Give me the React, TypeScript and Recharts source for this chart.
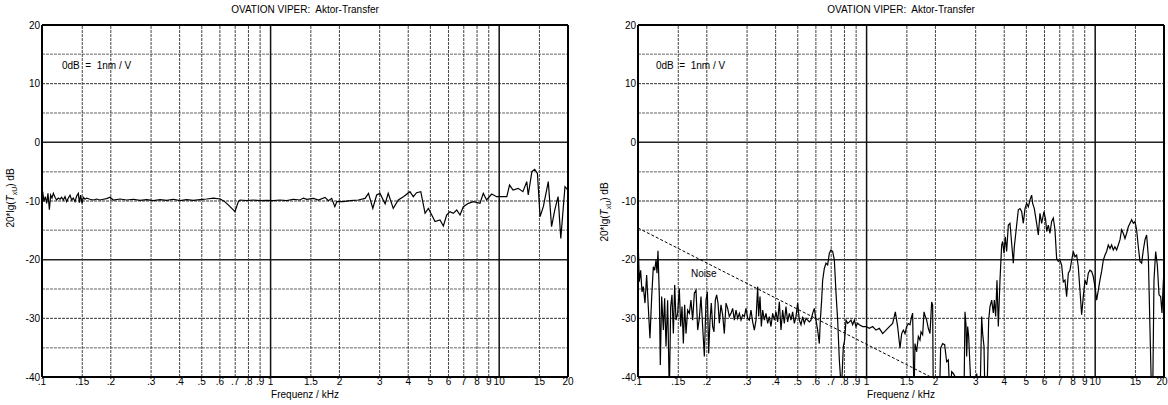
import { LineChart, Line, XAxis, YAxis, ReferenceLine } from 'recharts';

// frequency axis ticks (kHz) and level ticks (dB)
const xTicks = [0.1, 0.15, 0.2, 0.3, 0.4, 0.5, 0.6, 0.7, 0.8, 0.9, 1, 1.5, 2, 3, 4, 5, 6, 7, 8, 9, 10, 15, 20];
const yTicks = [-40, -30, -20, -10, 0, 10, 20];

// left panel: transfer curve
const leftFreq = [
  0.1, 0.1007, 0.102, 0.1034, 0.1048, 0.1062, 0.1077, 0.1091, 0.1106, 0.1121, 0.114, 0.1159, 0.1179, 0.1199,
  0.1219, 0.124, 0.1261, 0.1282, 0.1304, 0.1326, 0.1348, 0.1371, 0.1394, 0.1418, 0.1442, 0.1457, 0.1476, 0.1496,
  0.1516, 0.1542, 0.1568, 0.1622, 0.1677, 0.1734, 0.1794, 0.1855, 0.1918, 0.1984, 0.2051, 0.2194, 0.2346, 0.2509,
  0.2684, 0.2871, 0.3069, 0.3283, 0.3511, 0.3754, 0.4015, 0.4293, 0.4592, 0.4911, 0.5252, 0.5617, 0.6007, 0.6212,
  0.6424, 0.6644, 0.6871, 0.6987, 0.7106, 0.7226, 0.7349, 0.7857, 0.8404, 0.8986, 0.9612, 1.028, 1.099, 1.176,
  1.258, 1.345, 1.391, 1.44, 1.54, 1.62, 1.73, 1.79, 1.85, 1.91, 1.95, 2.08, 2.23, 2.42, 2.59, 2.68, 2.8, 2.91,
  3.01, 3.17, 3.27, 3.44, 3.62, 3.81, 4.07, 4.21, 4.35, 4.54, 4.74, 4.9, 5.07, 5.24, 5.51, 5.7, 5.89, 6.09, 6.3,
  6.52, 6.74, 6.97, 7.33, 7.71, 8.24, 8.52, 8.81, 9.27, 9.75, 10.25, 10.8, 11.1, 11.5, 12.1, 12.7, 13.2, 13.4,
  13.9, 14.3, 14.7, 15.1, 15.6, 16.4, 16.95, 17.5, 18.1, 18.6, 19.4, 20,
];
const leftDb = [
  -9.3, -8.4, -10.1, -9.26, -10.4, -8.7, -11.5, -9.0, -9.5, -8.7, -9.37, -9.83, -9.5, -9.7,
  -9.37, -9.83, -9.26, -10.1, -9.5, -9.0, -9.83, -9.5, -10.1, -9.15, -8.7, -10.3, -9.0, -10.4,
  -9.37, -9.7, -9.5, -9.7, -9.83, -9.66, -9.83, -9.7, -9.6, -9.37, -9.83, -9.66, -9.83, -9.7,
  -9.9, -9.77, -9.94, -9.77, -9.9, -9.7, -9.94, -9.77, -9.9, -9.77, -9.66, -9.5, -9.66, -9.94,
  -10.4, -10.96, -11.5, -11.8, -10.96, -10.1, -9.83, -9.94, -9.83, -9.94, -9.9, -9.94, -9.83, -9.94,
  -9.7, -9.83, -9.5, -9.72, -9.55, -9.83, -9.38, -9.95, -9.55, -10.97, -10.1, -10.1, -9.95, -9.83, -9.55, -8.7, -11.25, -8.98,
  -8.7, -10.5, -8.7, -11.25, -9.83, -9.26, -8.41, -9.26, -8.58, -8.41, -12.1, -11.25, -12.39, -13.5, -13.24, -14.26, -12.39, -11.82, -12.1,
  -11.54, -12.39, -10.97, -10.4, -10.1, -10.4, -8.7, -9.83, -8.81, -9.26, -9.26, -9.26, -7.28, -8.13, -7.84, -8.41, -6.7, -8.98,
  -5.0, -4.6, -5.3, -12.67, -10.97, -6.7, -14.38, -11.54, -9.26, -16.37, -7.56, -8.13,
];

// right panel: transfer curve (values below -40 run off the plot)
const rightFreq = [
  0.1, 0.1013, 0.1027, 0.1041, 0.1055, 0.1073, 0.1091, 0.1113, 0.1128, 0.1148, 0.1167, 0.1183, 0.1199, 0.1211,
  0.1223, 0.124, 0.1252, 0.1269, 0.1291, 0.1308, 0.1326, 0.1348, 0.1371, 0.139, 0.1408, 0.1428, 0.1447, 0.1466,
  0.1491, 0.1516, 0.1537, 0.1558, 0.1579, 0.16, 0.1622, 0.1649, 0.1677, 0.1705, 0.1734, 0.1764, 0.1794, 0.1824,
  0.1855, 0.1886, 0.1918, 0.1951, 0.1984, 0.2011, 0.2038, 0.2065, 0.2093, 0.2121, 0.215, 0.2179, 0.2208, 0.2239,
  0.2269, 0.2307, 0.2346, 0.2386, 0.2427, 0.2467, 0.2509, 0.2552, 0.2595, 0.2639, 0.2684, 0.2729, 0.2776, 0.2823,
  0.2871, 0.2919, 0.2968, 0.3018, 0.3069, 0.3121, 0.3174, 0.3228, 0.3283, 0.3338, 0.3372, 0.3418, 0.3464, 0.3511,
  0.357, 0.363, 0.3692, 0.3754, 0.3817, 0.3882, 0.3948, 0.4015, 0.4083, 0.4152, 0.4222, 0.4293, 0.4366, 0.444,
  0.4515, 0.4592, 0.4669, 0.4749, 0.4829, 0.4911, 0.4994, 0.5078, 0.5164, 0.5252, 0.5341, 0.5431, 0.5523, 0.5617,
  0.5712, 0.5808, 0.5907, 0.6007, 0.6108, 0.6212, 0.6275, 0.6359, 0.6424, 0.6533, 0.6644, 0.6756, 0.6871, 0.6987,
  0.7106, 0.7226, 0.7349, 0.7472, 0.7599, 0.7702, 0.7806, 0.7911, 0.8018, 0.8126, 0.8264, 0.8404, 0.8546, 0.8691,
  0.8838, 0.8986, 0.9139, 0.9294, 0.9612, 0.994, 1.028, 1.063, 1.099, 1.137, 1.176, 1.216, 1.258, 1.3, 1.336, 1.367,
  1.4, 1.424, 1.448, 1.472, 1.497, 1.523, 1.548, 1.574, 1.59, 1.612, 1.628, 1.656, 1.684, 1.712, 1.73, 1.759, 1.783,
  1.807, 1.831, 1.862, 1.894, 1.926, 1.945, 1.958, 1.992, 2.025, 2.08, 2.108, 2.151, 2.195, 2.24, 2.278, 2.316,
  2.356, 2.396, 2.436, 2.477, 2.667, 2.694, 2.722, 2.74, 2.768, 2.796, 2.834, 2.882, 2.98, 3.03, 3.134, 3.187,
  3.219, 3.263, 3.296, 3.351, 3.385, 3.42, 3.466, 3.525, 3.584, 3.621, 3.669, 3.719, 3.769, 3.833, 3.898, 3.938,
  3.991, 4.044, 4.099, 4.169, 4.239, 4.311, 4.384, 4.428, 4.503, 4.61, 4.688, 4.768, 4.848, 4.931, 5.014, 5.099,
  5.185, 5.273, 5.326, 5.416, 5.545, 5.639, 5.734, 5.831, 5.97, 6.071, 6.133, 6.236, 6.342, 6.449, 6.558, 6.669,
  6.782, 6.897, 7.014, 7.132, 7.253, 7.376, 7.501, 7.628, 7.757, 7.888, 8.022, 8.158, 8.296, 8.436, 8.579, 8.724,
  8.872, 9.022, 9.175, 9.33, 9.488, 9.649, 9.812, 9.978, 10.15, 10.32, 10.49, 10.67, 10.85, 11.04, 11.22, 11.41,
  11.61, 11.8, 12.0, 12.2, 12.41, 12.62, 12.84, 13.05, 13.27, 13.5, 13.73, 13.96, 14.2, 14.44, 14.68, 14.93, 15.18,
  15.44, 15.7, 15.97, 16.24, 16.52, 16.79, 17.08, 17.37, 17.66, 17.84, 18.08, 18.39, 18.7, 19.02, 19.34, 19.6,
  19.85, 20,
];
const rightDb = [
  -16.1, -23.75, -21.8, -25.5, -24.6, -27.4, -22.6, -29.15, -33.4, -26.3, -21.2, -21.8, -20.06, -22.3,
  -18.47, -26.3, -37.95, -26.3, -32.0, -26.6, -34.8, -26.9, -43, -28.0, -26.0, -32.6, -24.3, -30.3,
  -29.15, -24.9, -31.4, -28.0, -34.3, -27.7, -32.6, -28.6, -29.15, -26.9, -30.3, -25.7, -25.2, -32.0,
  -30.0, -26.3, -31.4, -36.5, -26.9, -25.5, -36.0, -30.3, -27.4, -31.4, -32.3, -26.9, -26.0, -27.4,
  -30.85, -27.7, -29.4, -32.6, -27.4, -28.3, -29.7, -29.15, -28.3, -30.3, -28.6, -30.0, -29.15, -30.3,
  -29.4, -29.7, -28.3, -30.0, -30.3, -28.6, -30.6, -32.0, -30.3, -24.6, -29.7, -26.3, -31.4, -28.6,
  -30.3, -29.15, -30.85, -29.7, -31.4, -29.15, -30.3, -28.9, -30.6, -27.2, -32.0, -28.6, -30.85, -28.0,
  -30.6, -29.15, -30.3, -28.9, -30.85, -29.7, -27.4, -30.3, -31.1, -29.7, -30.85, -30.0, -30.3, -30.6,
  -30.3, -29.15, -28.3, -30.3, -32.0, -34.3, -30.3, -26.9, -23.5, -21.5, -20.6, -20.9, -18.9, -18.35,
  -18.6, -20.06, -25.7, -30.3, -37.1, -40.5, -40.0, -34.8, -33.7, -30.3, -30.85, -30.6, -30.3, -31.1,
  -30.3, -31.4, -30.85, -31.1, -31.4, -31.4, -31.7, -31.4, -32.0, -31.7, -32.6, -32.0, -31.4, -30.85, -28.9, -31.4,
  -35.1, -32.6, -32.0, -32.6, -31.4, -30.9, -31.1, -29.7, -29.1, -44, -34.3, -35.7, -33.1, -33.7, -32.3, -32.8, -28.9,
  -29.7, -30.3, -31.7, -32.6, -27.2, -27.7, -44, -45, -45, -45, -35.1, -34.3, -34.5, -37.4, -37.1, -44,
  -39.1, -39.4, -39.9, -45, -44, -28.9, -31.1, -36.5, -31.4, -33.1, -38.2, -45, -45, -39.4, -44, -29.7,
  -32.6, -34.8, -44, -45, -38.2, -30.3, -28.0, -26.9, -29.1, -26.9, -29.7, -23.5, -31.4, -23.5, -17.5, -16.9,
  -18.9, -16.1, -18.6, -14.1, -13.8, -17.2, -20.6, -17.8, -15.2, -11.5, -11.3, -11.8, -13.8, -11.3, -10.4, -11.0,
  -9.8, -9.0, -10.4, -11.3, -13.8, -15.8, -12.1, -13.8, -11.8, -13.2, -15.2, -14.1, -15.5, -13.5, -12.9, -14.9,
  -19.8, -20.3, -20.1, -20.9, -23.8, -23.5, -26.3, -22.3, -21.8, -20.1, -18.6, -19.5, -19.2, -21.2, -25.2, -29.4,
  -26.3, -23.5, -24.3, -22.3, -21.8, -22.0, -22.9, -24.6, -26.9, -25.2, -23.5, -22.0, -20.1, -19.2, -18.6, -17.5,
  -18.1, -17.5, -18.35, -17.8, -18.35, -17.5, -16.6, -14.9, -15.5, -16.4, -15.5, -14.4, -13.8, -13.2, -13.8, -13.5, -14.9,
  -17.8, -20.3, -20.6, -18.35, -16.6, -15.8, -19.5, -32.0, -44, -44, -23.5, -18.6, -20.9, -26.0, -26.3, -29.1,
  -24.0, -22.0,
];

// dashed noise floor in the right panel
const noiseFreq = [0.1, 2.0];
const noiseDb = [-14.6, -40.4];

const toPoints = (fs: number[], ds: number[]) => fs.map((f, i) => ({ f, db: ds[i] }));

const font = '"Liberation Sans", Arial, Helvetica, sans-serif';
const minorX = [0.15, 0.2, 0.3, 0.4, 0.5, 0.6, 0.7, 0.8, 0.9, 1.5, 2, 3, 4, 5, 6, 7, 8, 9, 15];
const halfY = [-35, -25, -15, -5, 5, 15];
const dashY = [-30, -10, 10];
const solidY = [-20, 0];

const fmtX = (v: number) => (v < 1 ? String(v).replace(/^0/, '') : String(v));

// x tick label; the last one is pulled in a little so it stays inside the window
const XTick = (props: any) => {
  const { x, y, payload, shiftLast } = props;
  const v = payload.value as number;
  const dx = shiftLast && v === 20 ? -2 : 0;
  return (
    <text x={x + dx} y={y} dy={8} textAnchor="middle" fontSize={10} fill="#000" fontFamily={font}>
      {fmtX(v)}
    </text>
  );
};

type PanelProps = {
  left: number;
  yAxisWidth: number;
  rightMargin: number;
  series: { f: number; db: number }[];
  noise?: { f: number; db: number }[];
};

const Panel = ({ left, yAxisWidth, rightMargin, series, noise }: PanelProps) => (
  <div style={{ position: 'absolute', left, top: 0 }}>
    <LineChart width={584} height={405} margin={{ top: 25, right: rightMargin, bottom: 0, left: 0 }}>
      <XAxis
        dataKey="f"
        type="number"
        scale="log"
        domain={[0.1, 20]}
        ticks={xTicks}
        interval={0}
        allowDataOverflow
        tickLine={false}
        tickSize={0}
        tickMargin={0}
        axisLine={{ stroke: '#000', strokeWidth: 2 }}
        tick={<XTick shiftLast={rightMargin < 8} />}
        height={28}
      />
      <YAxis
        type="number"
        domain={[-40, 20]}
        ticks={yTicks}
        interval={0}
        allowDataOverflow
        width={yAxisWidth}
        tickLine={false}
        tickSize={0}
        tickMargin={2}
        axisLine={{ stroke: '#000', strokeWidth: 2 }}
        tick={{ fontSize: 10, fill: '#000', fontFamily: font }}
      />
      {halfY.map((y) => (
        <ReferenceLine key={'h' + y} y={y} stroke="#999" strokeWidth={1.5} strokeDasharray="3 1" />
      ))}
      {dashY.map((y) => (
        <ReferenceLine key={'d' + y} y={y} stroke="#333" strokeWidth={1} strokeDasharray="3 1" />
      ))}
      {solidY.map((y) => (
        <ReferenceLine key={'s' + y} y={y} stroke="#222" strokeWidth={1.5} />
      ))}
      {minorX.map((x) => (
        <ReferenceLine key={'v' + x} x={x} stroke="#444" strokeWidth={1} strokeDasharray="3 1" />
      ))}
      <ReferenceLine x={1} stroke="#111" strokeWidth={1.5} />
      <ReferenceLine x={10} stroke="#111" strokeWidth={1.5} />
      <ReferenceLine x={20} stroke="#000" strokeWidth={2} />
      <ReferenceLine y={20} stroke="#000" strokeWidth={2} />
      {noise && (
        <Line
          data={noise}
          dataKey="db"
          stroke="#000"
          strokeWidth={1}
          strokeDasharray="3 2"
          dot={false}
          isAnimationActive={false}
        />
      )}
      <Line data={series} dataKey="db" stroke="#000" strokeWidth={1.2} dot={false} isAnimationActive={false} />
    </LineChart>
  </div>
);

const txt = (extra: React.CSSProperties): React.CSSProperties => ({
  position: 'absolute',
  fontFamily: font,
  fontSize: 10,
  color: '#000',
  whiteSpace: 'nowrap',
  lineHeight: 1,
  ...extra,
});

const YLabel = ({ x, y }: { x: number; y: number }) => (
  <div style={txt({ left: x, top: y, transform: 'translate(-50%, -50%) rotate(-90deg)' })}>
    20*lg(<i>T</i>
    <sub style={{ fontSize: 7 }}>xU</sub>) dB
  </div>
);

export default function App() {
  const leftData = toPoints(leftFreq, leftDb);
  const rightData = toPoints(rightFreq, rightDb);
  const noiseData = toPoints(noiseFreq, noiseDb);
  return (
    <div style={{ position: 'absolute', left: 0, top: 0, width: 1168, height: 405, background: '#fff', overflow: 'hidden' }}>
      <Panel left={0} yAxisWidth={42} rightMargin={16} series={leftData} />
      <Panel left={584} yAxisWidth={54} rightMargin={4} series={rightData} noise={noiseData} />

      <div style={txt({ left: 305, top: 5, transform: 'translateX(-50%)' })}>OVATION VIPER:&nbsp; Aktor-Transfer</div>
      <div style={txt({ left: 901, top: 5, transform: 'translateX(-50%)' })}>OVATION VIPER:&nbsp; Aktor-Transfer</div>

      <div style={txt({ left: 62, top: 61 })}>0dB&nbsp; =&nbsp; 1nm / V</div>
      <div style={txt({ left: 656, top: 61 })}>0dB&nbsp; =&nbsp; 1nm / V</div>

      <div style={txt({ left: 691, top: 269 })}>Noise</div>

      <div style={txt({ left: 305, top: 390, transform: 'translateX(-50%)' })}>Frequenz / kHz</div>
      <div style={txt({ left: 901, top: 390, transform: 'translateX(-50%)' })}>Frequenz / kHz</div>

      <YLabel x={12} y={198} />
      <YLabel x={606} y={212} />
    </div>
  );
}
